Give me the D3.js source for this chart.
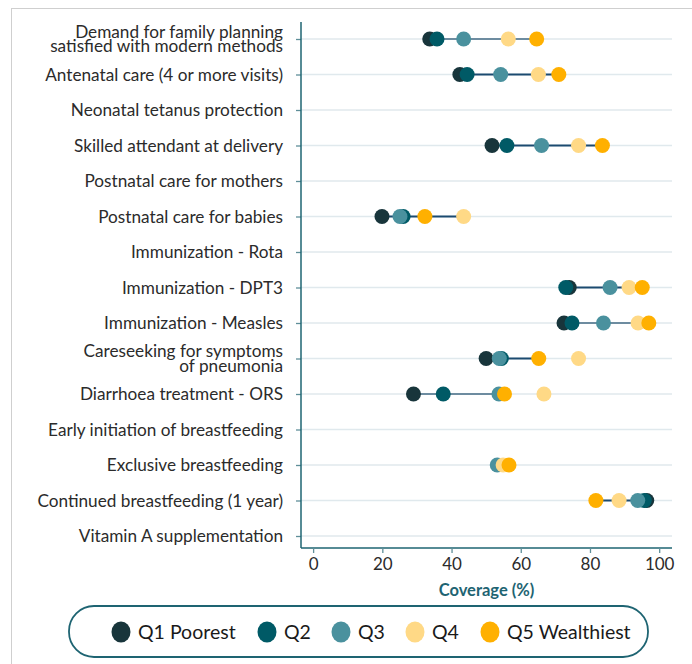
<!DOCTYPE html>
<html>
<head>
<meta charset="utf-8">
<script src="https://cdn.jsdelivr.net/npm/d3@7"></script>
<style>
  html, body { margin: 0; padding: 0; background: #fff; }
  svg { display: block; font-family: Lato, "Open Sans", sans-serif; }
</style>
</head>
<body>
<svg id="chart" width="692" height="664"></svg>
<script>
// ---- DATA ----
const indicators = [
  "Demand for family planning\nsatisfied with modern methods",
  "Antenatal care (4 or more visits)",
  "Neonatal tetanus protection",
  "Skilled attendant at delivery",
  "Postnatal care for mothers",
  "Postnatal care for babies",
  "Immunization - Rota",
  "Immunization - DPT3",
  "Immunization - Measles",
  "Careseeking for symptoms\nof pneumonia",
  "Diarrhoea treatment - ORS",
  "Early initiation of breastfeeding",
  "Exclusive breastfeeding",
  "Continued breastfeeding (1 year)",
  "Vitamin A supplementation"
];
const quintiles = ["Q1 Poorest", "Q2", "Q3", "Q4", "Q5 Wealthiest"];
const q1 = [33.7, 42.4, null, 51.7, null, 19.9, null, 74.0, 72.5, 50.0, 29.0, null, null, 96.4, null];
const q2 = [35.8, 44.5, null, 56.0, null, 26.0, null, 73.0, 74.8, 54.4, 37.6, null, null, 95.7, null];
const q3 = [43.5, 54.2, null, 66.0, null, 25.1, null, 85.8, 83.9, 53.8, 53.7, null, 53.2, 93.8, null];
const q4 = [56.4, 65.1, null, 76.7, null, 43.5, null, 91.3, 93.9, 76.7, 66.7, null, 54.9, 88.4, null];
const q5 = [64.6, 71.0, null, 83.6, null, 32.3, null, 95.1, 97.0, 65.2, 55.3, null, 56.6, 81.7, null];
// connector line extents (coverage %) and its group
const lineFrom = [33.7, 42.4, null, 51.7, null, 19.9, null, 73.0, 72.5, 50.0, 29.0, null, null, 81.7, null];
const lineTo   = [64.6, 71.0, null, 83.6, null, 43.5, null, 95.1, 97.0, 65.2, 55.3, null, null, 95.7, null];
const lineGroup = ["b", "a", null, "a", null, "a", null, "a", "b", "a", "b", null, null, "a", null];
const xTicks = [0, 20, 40, 60, 80, 100];
const xTitle = "Coverage (%)";

// ---- STYLE ----
const colors = ["#18353b", "#005a66", "#4a919e", "#ffd986", "#ffb000"];
const lineColors = { a: "#1c4a70", b: "#6d8ca0" };
const teal = "#1e6472";

const svg = d3.select("#chart");

// frame
svg.append("rect").attr("x", 11.5).attr("y", 8.5).attr("width", 720).attr("height", 700)
  .attr("fill", "none").attr("stroke", "#cfcfcf").attr("stroke-width", 1);

const pL = 301, pR = 672, pT = 22, pB = 548;
const x = d3.scaleLinear().domain([-3.5, 103.7]).range([pL, pR]);
const y = d3.scalePoint().domain(indicators).range([39, 536]);

// gridlines
svg.append("g").selectAll("line").data(indicators).join("line")
  .attr("x1", pL).attr("x2", pR)
  .attr("y1", d => y(d)).attr("y2", d => y(d))
  .attr("stroke", "#e0e9ed").attr("stroke-width", 1.5);

// y axis
const yAxis = svg.append("g").attr("transform", `translate(${pL},0)`)
  .call(d3.axisLeft(y).tickSize(5).tickFormat(""));
yAxis.select(".domain").remove();
yAxis.selectAll(".tick line").attr("stroke", "#5f8f99").attr("stroke-width", 1.3);
svg.append("line").attr("x1", pL).attr("x2", pL).attr("y1", pT).attr("y2", pB)
  .attr("stroke", teal).attr("stroke-width", 1.5);

// y labels
const lab = svg.append("g");
indicators.forEach(d => {
  const lines = d.split("\n");
  const lh = 14.5;
  const y0 = y(d) - (lines.length - 1) * lh / 2;
  lines.forEach((l, i) => {
    lab.append("text").attr("x", 283).attr("y", y0 + i * lh).attr("dy", "0.35em")
      .attr("text-anchor", "end").attr("fill", "#2b2b2b").attr("font-size", 17.2).text(l);
  });
});

// x axis
const xAxis = svg.append("g").attr("transform", `translate(0,${pB})`)
  .call(d3.axisBottom(x).tickValues(xTicks).tickSize(5).tickPadding(5));
xAxis.select(".domain").attr("d", `M${pL},0H${pR}`).attr("stroke", teal).attr("stroke-width", 1.5);
xAxis.selectAll(".tick line").attr("stroke", "#5f8f99").attr("stroke-width", 1.3);
xAxis.selectAll(".tick text").attr("font-size", 17).attr("fill", "#2b2b2b")
  .attr("font-family", "Lato, sans-serif");

svg.append("text").attr("x", (pL + pR) / 2).attr("y", 596).attr("text-anchor", "middle")
  .attr("font-size", 16.5).attr("font-weight", "bold").attr("fill", teal).text(xTitle);

// connector lines
const lineData = indicators.map((d, i) => ({ d, from: lineFrom[i], to: lineTo[i], g: lineGroup[i] }))
  .filter(o => o.from != null);
svg.append("g").selectAll("line").data(lineData).join("line")
  .attr("x1", o => x(o.from)).attr("x2", o => x(o.to))
  .attr("y1", o => y(o.d)).attr("y2", o => y(o.d))
  .attr("stroke", o => lineColors[o.g]).attr("stroke-width", 2);

// dots
const series = [q1, q2, q3, q4, q5];
series.forEach((vals, si) => {
  const pts = indicators.map((d, i) => ({ d, v: vals[i] })).filter(p => p.v != null);
  svg.append("g").selectAll("circle").data(pts).join("circle")
    .attr("cx", p => x(p.v)).attr("cy", p => y(p.d)).attr("r", 7.5)
    .attr("fill", colors[si]);
});

// legend
svg.append("rect").attr("x", 69).attr("y", 606).attr("width", 579).attr("height", 51)
  .attr("rx", 25).attr("ry", 25).attr("fill", "#fff").attr("stroke", teal).attr("stroke-width", 1.8);
const lg = svg.append("g");
const legX = [112, 258, 332, 406, 481];
quintiles.forEach((q, i) => {
  lg.append("ellipse").attr("cx", legX[i] + 9).attr("cy", 632).attr("rx", 9.5).attr("ry", 10.5).attr("fill", colors[i]);
  lg.append("text").attr("x", legX[i] + 26).attr("y", 632).attr("dy", "0.35em")
    .attr("font-size", 19.5).attr("fill", "#1a1a1a").text(q);
});
</script>
</body>
</html>
